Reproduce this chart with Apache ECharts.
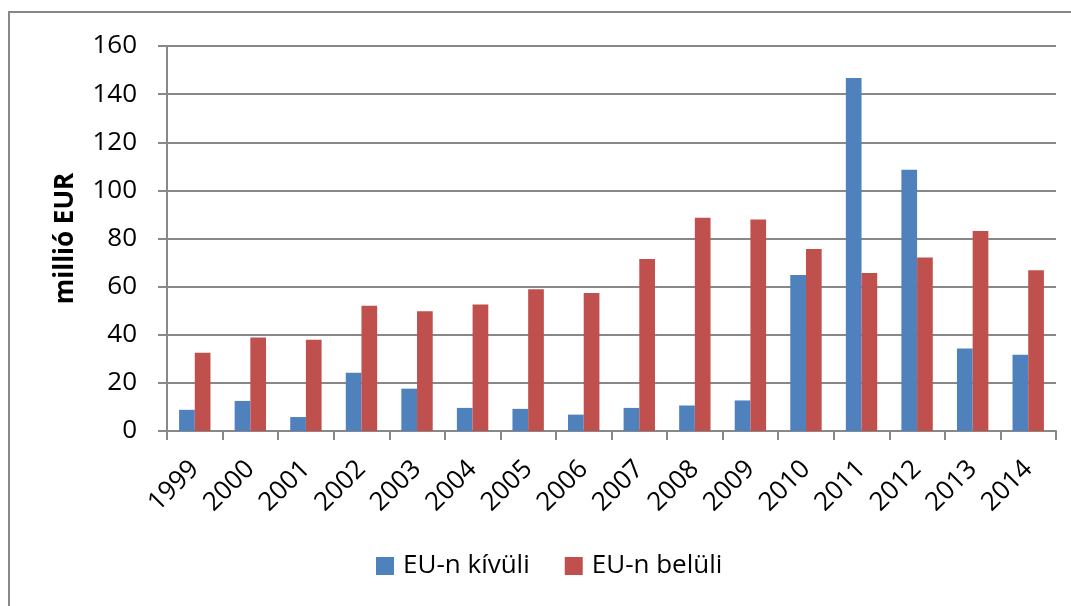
<!DOCTYPE html>
<html>
<head>
    <meta charset="utf-8">
    <title>EU-n kívüli / belüli</title>
    <script src="https://cdn.jsdelivr.net/npm/echarts@6/dist/echarts.min.js"></script>
    <style>
        html, body { margin: 0; padding: 0; background: #fff; }
        #chart { width: 1071px; height: 606px; }
    </style>
</head>
<body>
<div id="chart"></div>
<script type="text/javascript">
    // évek
    var years = ['1999', '2000', '2001', '2002', '2003', '2004', '2005', '2006',
        '2007', '2008', '2009', '2010', '2011', '2012', '2013', '2014'];
    // EU-n kívüli (millió EUR)
    var outsideEU = [8.8, 12.5, 5.8, 24.2, 17.6, 9.6, 9.2, 6.8,
        9.6, 10.6, 12.7, 64.8, 146.7, 108.6, 34.3, 31.7];
    // EU-n belüli (millió EUR)
    var insideEU = [32.5, 38.9, 37.9, 52.1, 49.8, 52.6, 58.9, 57.4,
        71.5, 88.6, 87.9, 75.6, 65.7, 72.1, 83.1, 66.8];
    var yTicks = [0, 20, 40, 60, 80, 100, 120, 140, 160];

    var font = 'Open Sans';
    var gray = '#888888';

    var myChart = echarts.init(document.getElementById('chart'));

    var option = {
        animation: false,
        textStyle: { fontFamily: font },
        graphic: [{
            type: 'rect',
            shape: { x: 9, y: 12, width: 1100, height: 620 },
            style: { fill: 'none', stroke: gray, lineWidth: 2 },
            silent: true
        }],
        grid: { left: 167, right: 15, top: 46, bottom: 175 },
        legend: {
            bottom: 22,
            left: 371,
            itemWidth: 18,
            itemHeight: 18,
            itemGap: 35,
            icon: 'rect',
            textStyle: { fontSize: 26, color: '#000', fontFamily: font, padding: [0, 0, 0, 4] },
            data: ['EU-n kívüli', 'EU-n belüli']
        },
        xAxis: {
            type: 'category',
            data: years,
            axisLine: { lineStyle: { color: gray, width: 2 } },
            axisTick: { show: true, length: 9, lineStyle: { color: gray, width: 2 } },
            axisLabel: { rotate: 45, fontSize: 26, color: '#000', margin: 34, fontFamily: font }
        },
        yAxis: {
            type: 'value',
            min: yTicks[0],
            max: yTicks[yTicks.length - 1],
            interval: 20,
            name: 'millió EUR',
            nameLocation: 'middle',
            nameGap: 88,
            nameTextStyle: { fontSize: 26, fontWeight: 'bold', color: '#000', fontFamily: font },
            axisLine: { show: true, lineStyle: { color: gray, width: 2 } },
            axisTick: { show: true, length: 9, lineStyle: { color: gray, width: 2 } },
            axisLabel: { fontSize: 26, color: '#000', margin: 30, fontFamily: font },
            splitLine: { lineStyle: { color: gray, width: 2 } }
        },
        series: [
            {
                name: 'EU-n kívüli',
                type: 'bar',
                data: outsideEU,
                barGap: '0%',
                barCategoryGap: '43.5%',
                itemStyle: { color: '#4F81BD' }
            },
            {
                name: 'EU-n belüli',
                type: 'bar',
                data: insideEU,
                barGap: '0%',
                barCategoryGap: '43.5%',
                itemStyle: { color: '#C0504D' }
            }
        ]
    };

    myChart.setOption(option);
</script>
</body>
</html>
